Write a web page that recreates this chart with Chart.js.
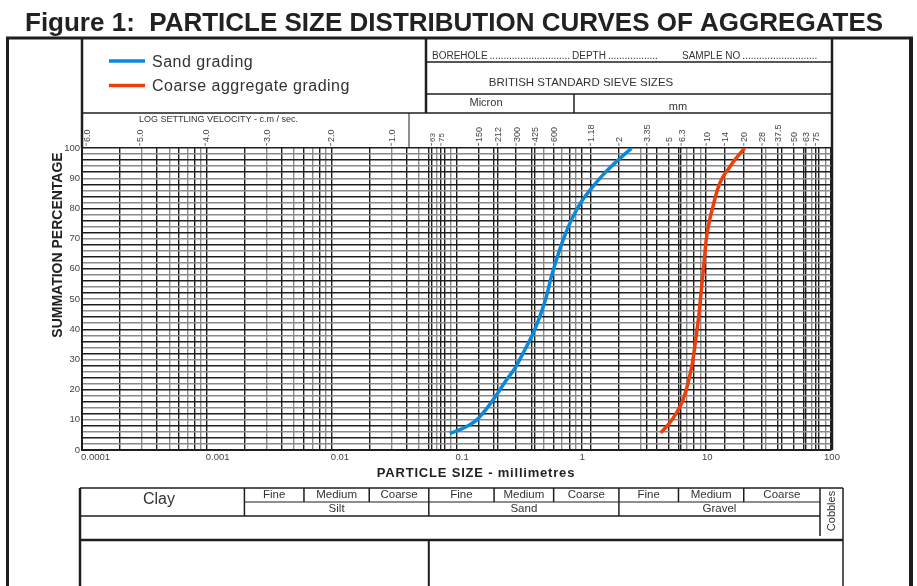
<!DOCTYPE html>
<html>
<head>
<meta charset="utf-8">
<script src="https://cdn.jsdelivr.net/npm/chart.js@4.4.0/dist/chart.umd.min.js"></script>
<style>
  html, body { margin: 0; padding: 0; background: #fff; }
  canvas { display: block; }
</style>
</head>
<body>
<canvas id="psd" width="917" height="586"></canvas>
<script>
// grading curves (particle size in mm, % passing)
const sandSize = [0.0883, 0.113, 0.1445, 0.179, 0.209, 0.251, 0.293, 0.352, 0.41, 0.464,
  0.525, 0.575, 0.631, 0.713, 0.833, 1.0, 1.205, 1.49, 1.97, 2.52];
const sandPassing = [5.5, 7.2, 9.9, 14.3, 18.2, 23.2, 27.0, 33.1, 38.6, 44.1,
  50.8, 57.4, 62.9, 69.5, 76.2, 82.2, 86.6, 91.1, 96.0, 99.9];
const coarseSize = [4.32, 4.95, 5.77, 6.52, 7.15, 7.75, 8.24, 8.71, 9.15, 9.55,
  10.0, 10.66, 11.33, 12.08, 12.68, 13.65, 14.96, 16.9, 18.5, 20.3];
const coarsePassing = [5.7, 8.3, 12.2, 16.6, 22.1, 28.7, 36.4, 44.1, 53.0, 60.7,
  69.5, 76.2, 80.6, 85.0, 87.7, 90.5, 92.9, 96.0, 98.0, 99.9];

// axis labels
const xTickValues = [0.0001, 0.001, 0.01, 0.1, 1, 10, 100];
const xTickLabels = ["0.0001", "0.001", "0.01", "0.1", "1", "10", "100"];
const yTickValues = [0, 10, 20, 30, 40, 50, 60, 70, 80, 90, 100];

// british standard sieve sizes along the top
const micronSieves = [63, 75, 150, 212, 300, 425, 600];
const mmSieves = ["1.18", "2", "3.35", "5", "6.3", "10", "14", "20", "28", "37.5", "50", "63", "75"];

// log settling velocity labels and the particle size they sit over
const velocityLabels = ["6.0", "5.0", "4.0", "3.0", "2.0", "1.0"];
const velocitySize = [0.000108, 0.00029, 0.00097, 0.003, 0.0098, 0.03];

// soil classes, boundaries in mm
const classBounds = [0.002, 0.006, 0.02, 0.06, 0.2, 0.6, 2, 6, 20];
const subNames = ["Fine", "Medium", "Coarse"];

const FONT = '"Liberation Sans", Arial, Helvetica, sans-serif';
const DARK = "#1e1e1e";
const GREY = "#8a8a8a";

const round6 = (v) => Number(v.toPrecision(6));

// all vertical rulings: log minors + sieve lines
const xGrid = [];
for (let e = -4; e <= 1; e++) {
  for (let m = 1; m <= 9; m++) xGrid.push(round6(m * Math.pow(10, e)));
}
xGrid.push(100);
micronSieves.forEach((s) => xGrid.push(round6(s / 1000)));
mmSieves.forEach((s) => xGrid.push(parseFloat(s)));
const xGridValues = [...new Set(xGrid)].sort((a, b) => a - b);

const yGridValues = [];
for (let v = 0; v <= 100; v += 2) yGridValues.push(v);

const line = (ctx, x1, y1, x2, y2, w, c) => {
  ctx.beginPath();
  ctx.lineWidth = w;
  ctx.strokeStyle = c || DARK;
  ctx.moveTo(x1, y1);
  ctx.lineTo(x2, y2);
  ctx.stroke();
};

const vText = (ctx, txt, x, y, size) => {
  ctx.save();
  ctx.translate(x, y);
  ctx.rotate(-Math.PI / 2);
  ctx.font = size + "px " + FONT;
  ctx.textAlign = "left";
  ctx.textBaseline = "alphabetic";
  ctx.fillText(txt, 0, 0);
  ctx.restore();
};

// word followed by dots up to a given x
const dotted = (ctx, word, x, toX) => {
  ctx.fillText(word, x, 59);
  let dx = x + ctx.measureText(word).width + 2;
  const dot = ctx.measureText(".").width;
  while (dx + dot <= toX) {
    ctx.fillText(".", dx, 59);
    dx += dot;
  }
};

const sheetPlugin = {
  id: "sheet",
  beforeDraw(chart) {
    const ctx = chart.ctx;
    ctx.save();
    ctx.fillStyle = "#fff";
    ctx.fillRect(0, 0, chart.width, chart.height);
    ctx.restore();
  },
  afterDraw(chart) {
    const ctx = chart.ctx;
    const xs = chart.scales.x;
    const area = chart.chartArea;
    const px = (v) => xs.getPixelForValue(v);
    ctx.save();

    // title
    ctx.fillStyle = "#222";
    ctx.font = "bold 26px " + FONT;
    ctx.textBaseline = "alphabetic";
    ctx.textAlign = "left";
    ctx.fillText("Figure 1:  PARTICLE SIZE DISTRIBUTION CURVES OF AGGREGATES", 25, 31);

    // outer frame
    line(ctx, 6, 38, 913, 38, 3);
    line(ctx, 7.5, 38, 7.5, 586, 3);
    line(ctx, 911, 38, 911, 586, 4);

    // legend box + header boxes
    line(ctx, 82, 38, 82, area.top, 2.5);
    line(ctx, 426, 38, 426, 113, 2.5);
    line(ctx, area.right + 1, 38, area.right + 1, area.bottom, 2.5);
    line(ctx, 82, 113, area.right, 113, 1.5);
    line(ctx, 426, 62, area.right, 62, 1.5);
    line(ctx, 426, 94, area.right, 94, 1.5);
    line(ctx, 574, 94, 574, 113, 1.5);
    line(ctx, 409, 113, 409, area.top, 1);

    ctx.fillStyle = "#333";
    ctx.font = "10px " + FONT;
    ctx.textAlign = "left";
    ctx.textBaseline = "alphabetic";
    dotted(ctx, "BOREHOLE", 432, 572);
    dotted(ctx, "DEPTH", 572, 660);
    dotted(ctx, "SAMPLE NO", 682, 820);
    ctx.textAlign = "center";
    ctx.font = "11.5px " + FONT;
    ctx.fillText("BRITISH STANDARD SIEVE SIZES", 581, 86);
    ctx.font = "11px " + FONT;
    ctx.fillText("Micron", 486, 106);
    ctx.fillText("mm", 678, 110);

    // legend drawn from the datasets
    chart.data.datasets.forEach((ds, i) => {
      const y = 61 + i * 24.5;
      line(ctx, 109, y, 145, y, 3.5, ds.borderColor);
      ctx.fillStyle = "#333";
      ctx.font = "16px " + FONT;
      ctx.letterSpacing = "0.5px";
      ctx.textAlign = "left";
      ctx.textBaseline = "middle";
      ctx.fillText(ds.label, 152, y + 1.5);
      ctx.letterSpacing = "0px";
    });

    // settling velocity band
    ctx.fillStyle = "#333";
    ctx.font = "9px " + FONT;
    ctx.textAlign = "left";
    ctx.textBaseline = "middle";
    ctx.fillText("LOG SETTLING VELOCITY - c.m / sec.", 139, 120);
    ctx.fillStyle = "#444";
    velocityLabels.forEach((lab, i) => {
      const x = px(velocitySize[i]);
      line(ctx, x, area.top - 2, x, area.top - 5, 0.8, "#555");
      vText(ctx, lab, x + 3.5, area.top - 6, 9);
    });

    // sieve size labels
    micronSieves.forEach((s) => {
      const x = px(s / 1000);
      line(ctx, x, area.top - 2, x, area.top - 5, 0.8, "#555");
      vText(ctx, String(s), x + 3.5, area.top - 6, s < 100 ? 8 : 9);
    });
    mmSieves.forEach((s) => {
      const x = px(parseFloat(s));
      line(ctx, x, area.top - 2, x, area.top - 5, 0.8, "#555");
      vText(ctx, s, x + 3.5, area.top - 6, 9);
    });

    // x tick labels
    ctx.fillStyle = "#444";
    ctx.font = "9.5px " + FONT;
    ctx.textBaseline = "top";
    xTickValues.forEach((v, i) => {
      const x = px(v);
      if (v < 1) {
        ctx.textAlign = "left";
        ctx.fillText(xTickLabels[i], x - 1, area.bottom + 3);
      } else {
        ctx.textAlign = "center";
        ctx.fillText(xTickLabels[i], x + 1, area.bottom + 3);
      }
    });

    // axis titles
    ctx.fillStyle = "#222";
    ctx.font = "bold 13px " + FONT;
    ctx.letterSpacing = "0.8px";
    ctx.textAlign = "center";
    ctx.textBaseline = "middle";
    ctx.fillText("PARTICLE SIZE - millimetres", 476, 473);
    ctx.letterSpacing = "0px";
    ctx.save();
    ctx.translate(58, 245);
    ctx.rotate(-Math.PI / 2);
    ctx.font = "bold 14px " + FONT;
    ctx.fillText("SUMMATION PERCENTAGE", 0, 0);
    ctx.restore();

    // soil classification table
    const tL = 80, tR = 843, tTop = 488, tMid = 502, tRow = 516, tThick = 540;
    const cob = px(100) - 11;
    const b = classBounds.map(px);
    line(ctx, tL, tTop, tR, tTop, 1.5);
    line(ctx, b[0], tMid, cob, tMid, 1.2);
    line(ctx, tL, tRow, cob, tRow, 1.5);
    line(ctx, tL, tThick, tR, tThick, 2.5);
    line(ctx, tL, tTop, tL, 586, 2.5);
    line(ctx, tR, tTop, tR, 586, 1.5);
    line(ctx, b[3], tThick, b[3], 586, 2);
    line(ctx, cob, tTop, cob, 536, 1.5);
    [0, 3, 6].forEach((k) => line(ctx, b[k], tTop, b[k], tRow, 1.5));
    [1, 2, 4, 5, 7, 8].forEach((k) => line(ctx, b[k], tTop, b[k], tMid, 1.5));

    ctx.fillStyle = "#333";
    ctx.font = "16px " + FONT;
    ctx.textAlign = "center";
    ctx.textBaseline = "middle";
    ctx.fillText("Clay", 159, 500);

    ctx.font = "11.5px " + FONT;
    const groups = [["Silt", 0], ["Sand", 3], ["Gravel", 6]];
    groups.forEach(([name, k]) => {
      const edges = [b[k], b[k + 1], b[k + 2], k + 3 < b.length ? b[k + 3] : cob];
      subNames.forEach((sn, j) => {
        ctx.fillText(sn, (edges[j] + edges[j + 1]) / 2, 495);
      });
      ctx.fillText(name, (edges[0] + edges[3]) / 2, 509);
    });
    ctx.save();
    ctx.translate((cob + tR) / 2, 511);
    ctx.rotate(-Math.PI / 2);
    ctx.font = "11px " + FONT;
    ctx.fillText("Cobbles", 0, 0);
    ctx.restore();

    ctx.restore();
  },
};

const ctx = document.getElementById("psd").getContext("2d");

const xLineColour = (v) => {
  if (Math.abs(Math.log10(v) - Math.round(Math.log10(v))) < 1e-9) return DARK;
  const m = Math.round(v / Math.pow(10, Math.floor(Math.log10(v) + 1e-9)));
  const isSieve = micronSieves.some((s) => round6(s / 1000) === v) ||
    mmSieves.some((s) => parseFloat(s) === v);
  if (isSieve) return DARK;
  return m % 2 === 0 ? DARK : GREY;
};

new Chart(ctx, {
  type: "line",
  data: {
    datasets: [
      {
        label: "Sand grading",
        data: sandSize.map((x, i) => ({ x: x, y: sandPassing[i] })),
        borderColor: "#0a88dc",
        borderWidth: 3.5,
        pointRadius: 0,
        cubicInterpolationMode: "monotone",
        fill: false,
      },
      {
        label: "Coarse aggregate grading",
        data: coarseSize.map((x, i) => ({ x: x, y: coarsePassing[i] })),
        borderColor: "#ec3f0c",
        borderWidth: 3.5,
        pointRadius: 0,
        cubicInterpolationMode: "monotone",
        fill: false,
      },
    ],
  },
  options: {
    responsive: false,
    animation: false,
    layout: { padding: { left: 0, right: 86, top: 148, bottom: 120 } },
    plugins: { legend: { display: false }, tooltip: { enabled: false } },
    scales: {
      x: {
        type: "logarithmic",
        min: 0.0001,
        max: 100,
        afterBuildTicks: (s) => {
          s.ticks = xGridValues.map((v) => ({ value: v }));
        },
        afterFit: (s) => {
          s.height = 16;
        },
        ticks: { display: false, autoSkip: false },
        grid: {
          drawTicks: false,
          lineWidth: 1.4,
          color: (c) => xLineColour(c.tick.value),
        },
        border: { color: DARK, width: 2 },
      },
      y: {
        min: 0,
        max: 100,
        afterBuildTicks: (s) => {
          s.ticks = yGridValues.map((v) => ({ value: v }));
        },
        afterFit: (s) => {
          s.width = 82;
        },
        ticks: {
          autoSkip: false,
          padding: 2,
          color: "#444",
          font: { family: FONT, size: 9.5 },
          callback: (v) => (yTickValues.includes(v) ? String(v) : ""),
        },
        grid: {
          drawTicks: false,
          lineWidth: 1.4,
          color: (c) => (c.tick.value % 4 === 0 ? DARK : GREY),
        },
        border: { color: DARK, width: 2 },
      },
    },
  },
  plugins: [sheetPlugin],
});
</script>
</body>
</html>
